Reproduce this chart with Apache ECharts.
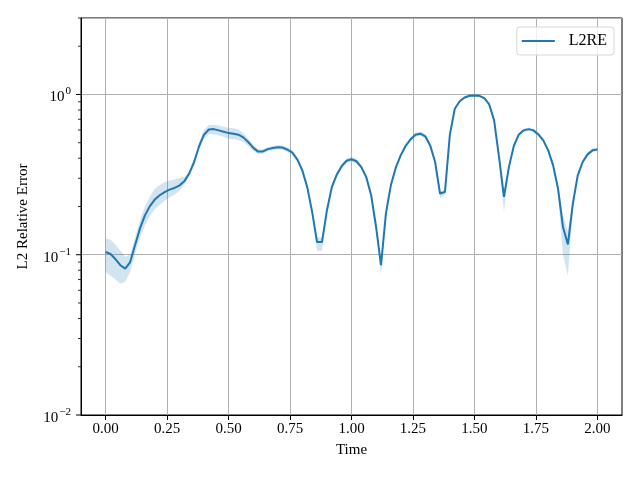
<!DOCTYPE html>
<html><head><meta charset="utf-8">
<script src="https://cdn.jsdelivr.net/npm/echarts@6/dist/echarts.min.js"></script>
<style>html,body{margin:0;padding:0;background:#fff}#c{width:640px;height:480px}</style>
</head><body><div id="c"></div>
<script>
const times = [0.00,0.02,0.04,0.06,0.08,0.10,0.12,0.14,0.16,0.18,0.20,0.22,0.24,0.26,0.28,0.30,0.32,0.34,0.36,0.38,0.40,0.42,0.44,0.46,0.48,0.50,0.52,0.54,0.56,0.58,0.60,0.62,0.64,0.66,0.68,0.70,0.72,0.74,0.76,0.78,0.80,0.82,0.84,0.86,0.88,0.90,0.92,0.94,0.96,0.98,1.00,1.02,1.04,1.06,1.08,1.10,1.12,1.14,1.16,1.18,1.20,1.22,1.24,1.26,1.28,1.30,1.32,1.34,1.36,1.38,1.40,1.42,1.44,1.46,1.48,1.50,1.52,1.54,1.56,1.58,1.60,1.62,1.64,1.66,1.68,1.70,1.72,1.74,1.76,1.78,1.80,1.82,1.84,1.86,1.88,1.90,1.92,1.94,1.96,1.98,2.00];
const meanL2RE = [0.104,0.101,0.094,0.086,0.082,0.090,0.115,0.146,0.176,0.201,0.221,0.235,0.246,0.255,0.261,0.270,0.287,0.321,0.379,0.474,0.561,0.605,0.608,0.597,0.586,0.574,0.569,0.561,0.540,0.505,0.466,0.440,0.441,0.456,0.463,0.469,0.466,0.452,0.433,0.392,0.336,0.264,0.185,0.120,0.120,0.189,0.264,0.316,0.357,0.386,0.394,0.383,0.352,0.305,0.235,0.149,0.086,0.181,0.271,0.349,0.417,0.477,0.524,0.561,0.569,0.548,0.481,0.379,0.241,0.246,0.562,0.814,0.908,0.958,0.981,0.986,0.981,0.948,0.866,0.689,0.407,0.230,0.352,0.477,0.561,0.597,0.608,0.597,0.563,0.517,0.448,0.361,0.258,0.149,0.116,0.208,0.313,0.379,0.423,0.448,0.454];
const lowerL2RE = [0.078,0.074,0.070,0.066,0.068,0.078,0.101,0.127,0.152,0.174,0.192,0.205,0.217,0.228,0.238,0.250,0.272,0.310,0.365,0.455,0.530,0.565,0.565,0.555,0.545,0.530,0.525,0.520,0.505,0.478,0.446,0.424,0.427,0.442,0.449,0.455,0.452,0.438,0.418,0.378,0.324,0.254,0.176,0.106,0.106,0.180,0.254,0.305,0.345,0.374,0.381,0.371,0.341,0.295,0.226,0.140,0.075,0.172,0.262,0.338,0.404,0.462,0.508,0.544,0.552,0.531,0.466,0.367,0.225,0.238,0.545,0.796,0.890,0.940,0.963,0.968,0.963,0.930,0.847,0.668,0.385,0.185,0.340,0.465,0.548,0.582,0.593,0.582,0.548,0.502,0.433,0.345,0.235,0.100,0.074,0.190,0.303,0.368,0.412,0.437,0.444];
const upperL2RE = [0.126,0.124,0.116,0.106,0.097,0.100,0.128,0.165,0.200,0.230,0.258,0.272,0.283,0.290,0.295,0.301,0.305,0.333,0.395,0.500,0.600,0.645,0.648,0.640,0.628,0.620,0.615,0.605,0.575,0.530,0.485,0.455,0.455,0.470,0.477,0.483,0.480,0.466,0.448,0.405,0.348,0.274,0.193,0.128,0.128,0.197,0.274,0.327,0.369,0.398,0.407,0.395,0.363,0.315,0.243,0.155,0.090,0.188,0.280,0.360,0.430,0.492,0.540,0.578,0.586,0.565,0.496,0.391,0.249,0.254,0.580,0.830,0.925,0.975,0.998,1.003,0.998,0.965,0.885,0.708,0.420,0.243,0.363,0.490,0.575,0.612,0.623,0.612,0.578,0.532,0.462,0.375,0.270,0.176,0.140,0.218,0.323,0.390,0.434,0.459,0.464];
const xTickValues = [0, 0.25, 0.5, 0.75, 1.0, 1.25, 1.5, 1.75, 2.0];
const yMajorTicks = [0.01, 0.1, 1];
const yMinorTicks = [0.02,0.03,0.04,0.05,0.06,0.07,0.08,0.09,0.2,0.3,0.4,0.5,0.6,0.7,0.8,0.9,2,3];
const seriesName = 'L2RE';

const FONT = 'Liberation Serif';
const FS = 15;
const chart = echarts.init(document.getElementById('c'), null, {renderer: 'canvas'});

function tickRenderer(len, width) {
  return function (params, api) {
    const p = api.coord([api.value(0), api.value(1)]);
    const x0 = params.coordSys.x;
    return {
      type: 'line',
      shape: {x1: x0 - len, y1: p[1], x2: x0, y2: p[1]},
      style: {stroke: '#000', lineWidth: width}
    };
  };
}

const option = {
  backgroundColor: '#fff',
  animation: false,
  textStyle: {fontFamily: FONT},
  grid: {left: 81, right: 18, top: 18, bottom: 65, show: true, borderColor: '#000', borderWidth: 1, backgroundColor: 'transparent'},
  legend: {
    data: [{name: seriesName, icon: 'rect'}],
    right: 26, top: 27,
    orient: 'vertical',
    padding: [6, 7, 6, 5],
    itemWidth: 33, itemHeight: 2,
    borderColor: '#d6d6d6', borderWidth: 1, borderRadius: 3,
    backgroundColor: 'rgba(255,255,255,0.8)',
    itemStyle: {color: '#1f77b4'},
    textStyle: {fontFamily: FONT, fontSize: 16, color: '#000', lineHeight: 15, padding: [0, 0, 0, 9]}
  },
  xAxis: {
    type: 'value', min: -0.1, max: 2.1,
    name: 'Time', nameLocation: 'middle', nameGap: 28,
    nameTextStyle: {fontFamily: FONT, fontSize: FS, color: '#000'},
    axisLine: {show: true, onZero: false, lineStyle: {color: '#000', width: 1}},
    axisTick: {show: true, customValues: xTickValues, length: 5, lineStyle: {color: '#000', width: 1}},
    axisLabel: {customValues: xTickValues, margin: 7, fontFamily: FONT, fontSize: FS, color: '#000',
      formatter: v => v.toFixed(2)},
    splitLine: {show: true, lineStyle: {color: '#b0b0b0', width: 1}}
  },
  yAxis: {
    type: 'log', logBase: 10, min: 0.01, max: 3,
    name: 'L2 Relative Error', nameLocation: 'middle', nameGap: 50,
    nameTextStyle: {fontFamily: FONT, fontSize: FS, color: '#000'},
    axisLine: {show: true, onZero: false, lineStyle: {color: '#000', width: 1}},
    axisTick: {show: false},
    axisLabel: {
      margin: 10, showMaxLabel: false, color: '#000', padding: [6, 0, 0, 0],
      formatter: function (v) {
        const e = Math.round(Math.log10(v));
        const es = e < 0 ? '\u2212' + (-e) : String(e);
        return '{b|10}{s|' + es + '}';
      },
      rich: {
        b: {fontFamily: FONT, fontSize: FS, color: '#000', verticalAlign: 'bottom', lineHeight: 15},
        s: {fontFamily: FONT, fontSize: 11, color: '#000', verticalAlign: 'bottom', lineHeight: 11, padding: [0, 0, 8, 1]}
      }
    },
    splitLine: {show: true, lineStyle: {color: '#b0b0b0', width: 1}}
  },
  series: [
    {
      name: 'band', type: 'custom', silent: true, z: 1,
      data: times.map((t, i) => [t, lowerL2RE[i], upperL2RE[i]]),
      encode: {x: 0, y: [1, 2]},
      renderItem: function (params, api) {
        if (params.dataIndexInside !== 0) return null;
        const n = params.dataInsideLength;
        const top = [], bot = [];
        for (let i = 0; i < n; i++) {
          top.push(api.coord([api.value(0, i), api.value(2, i)]));
          bot.push(api.coord([api.value(0, i), api.value(1, i)]));
        }
        return {type: 'polygon', shape: {points: top.concat(bot.reverse())},
          style: {fill: 'rgba(31,119,180,0.2)', stroke: null}};
      }
    },
    {
      name: seriesName, type: 'line', z: 3,
      data: times.map((t, i) => [t, meanL2RE[i]]),
      symbol: 'none', showSymbol: false,
      lineStyle: {color: '#1f77b4', width: 2},
      itemStyle: {color: '#1f77b4'}
    },
    {
      name: 'majorTicks', type: 'custom', silent: true, clip: false, z: 4,
      data: yMajorTicks.map(v => [xTickValues[0], v]),
      encode: {x: 0, y: 1},
      renderItem: tickRenderer(5, 1)
    },
    {
      name: 'minorTicks', type: 'custom', silent: true, clip: false, z: 4,
      data: yMinorTicks.map(v => [xTickValues[0], v]),
      encode: {x: 0, y: 1},
      renderItem: tickRenderer(3, 0.8)
    }
  ]
};
chart.setOption(option);
</script>
</body></html>
